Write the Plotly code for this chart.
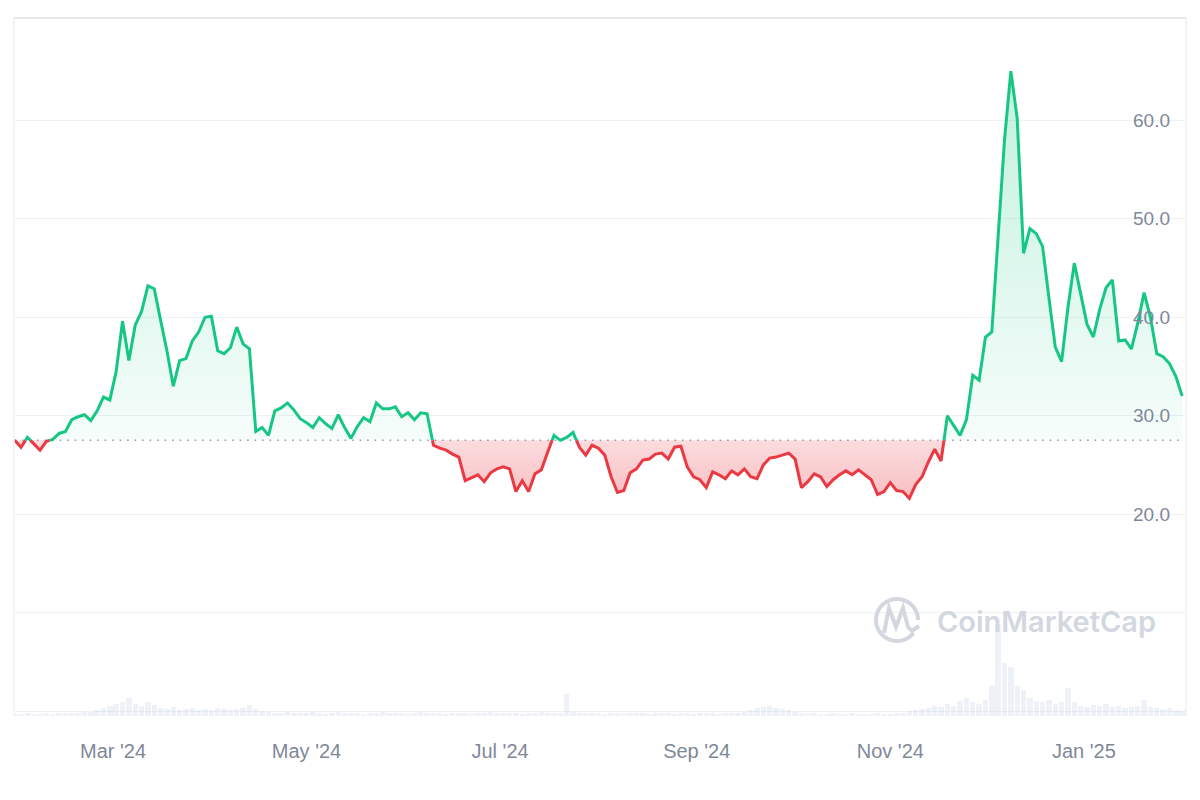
import numpy as np
import pandas as pd
import plotly.graph_objects as go

# ---------------- data ----------------
start_date = "2024-01-30"
step = "2D"

prices = [
    27.5, 26.8, 27.8, 27.2, 26.5, 27.4, 27.6, 28.2, 28.4, 29.6,
    29.9, 30.1, 29.5, 30.5, 31.9, 31.6, 34.5, 39.6, 35.6, 39.2,
    40.6, 43.2, 42.9, 39.7, 36.6, 33.0, 35.6, 35.8, 37.6, 38.5,
    40.0, 40.1, 36.6, 36.3, 36.9, 39.0, 37.3, 36.8, 28.4, 28.8,
    28.0, 30.5, 30.8, 31.3, 30.6, 29.7, 29.3, 28.8, 29.8, 29.2,
    28.7, 30.1, 28.8, 27.7, 28.9, 29.8, 29.4, 31.3, 30.7, 30.7,
    30.9, 29.9, 30.3, 29.6, 30.3, 30.2, 27.0, 26.7, 26.5, 26.1,
    25.8, 23.4, 23.7, 24.0, 23.3, 24.2, 24.6, 24.8, 24.6, 22.3,
    23.4, 22.3, 24.1, 24.5, 26.3, 28.0, 27.5, 27.8, 28.3, 26.8,
    26.0, 27.0, 26.7, 26.0, 23.8, 22.2, 22.4, 24.2, 24.6, 25.5,
    25.6, 26.1, 26.2, 25.6, 26.8, 26.9, 24.8, 23.8, 23.5, 22.7,
    24.3, 24.0, 23.6, 24.4, 24.0, 24.6, 23.8, 23.6, 25.0, 25.7,
    25.8, 26.0, 26.2, 25.6, 22.7, 23.3, 24.1, 23.8, 22.8, 23.5,
    24.0, 24.4, 24.0, 24.5, 24.0, 23.5, 22.0, 22.3, 23.2, 22.4,
    22.3, 21.6, 23.0, 23.8, 25.3, 26.6, 25.4, 30.0, 29.0, 28.0,
    29.6, 34.1, 33.6, 38.0, 38.5, 48.5, 58.0, 65.0, 60.2, 46.5,
    49.0, 48.5, 47.2, 42.0, 37.0, 35.5, 41.0, 45.5, 42.5, 39.3,
    38.0, 40.8, 43.0, 43.8, 37.6, 37.7, 36.8, 39.4, 42.5, 40.0,
    36.3, 36.0, 35.3, 34.0, 32.0,
]

volumes = [
    2, 2, 3, 2, 2, 3, 2, 3, 3, 3, 3, 4,
    4, 6, 8, 10, 12,
    14, 18, 12, 10, 14, 11,
    8, 7, 9, 6, 7, 8, 6, 7, 6, 8, 7, 6, 7, 8,
    11, 7, 5,
    4, 3, 3, 4, 3, 3, 3, 4, 3, 2, 3, 4, 3, 3, 3, 2, 3, 3, 4, 3, 3, 3, 2, 3,
    4, 3, 3, 3, 2, 3, 3, 3, 2, 3, 3, 4, 3, 3, 3, 3, 2, 3, 3, 4, 3, 3, 3,
    22,
    4, 3, 3, 3, 3, 2, 3, 3, 2, 3, 3, 3, 2, 3, 3, 3, 2, 3, 3, 2, 3, 3, 3, 2, 3, 3,
    3, 4, 6, 8, 9, 10, 8, 7, 6, 4,
    3, 2, 3, 2, 2, 3, 2, 2, 3, 2, 2, 2, 3, 2, 2, 3, 3,
    5, 6, 7, 8, 10, 9, 12, 10, 15, 18, 14, 12, 16,
    30, 91, 53, 49, 30, 26,
    18, 15, 14, 16, 12, 14, 28,
    14,
    10, 9, 11, 10, 12, 9, 10, 8, 9, 10,
    16,
    9, 8, 7, 8, 6, 5,
]

y_tick_values = [0, 10, 20, 30, 40, 50, 60]
y_tick_labels = ["", "", "20.0", "30.0", "40.0", "50.0", "60.0"]
x_tick_dates = ["2024-03-01", "2024-05-01", "2024-07-01",
                "2024-09-01", "2024-11-01", "2025-01-01"]
x_tick_labels = ["Mar '24", "May '24", "Jul '24", "Sep '24", "Nov '24", "Jan '25"]

GREEN = "#16c784"
RED = "#ea3943"

# ---------------- preparation ----------------
n = min(len(prices), len(volumes))
dates = pd.date_range(start_date, periods=n, freq=step)
p = np.array(prices[:n], dtype=float)
vol = np.array(volumes[:n], dtype=float)
base = p[0]

# add the points where the series crosses the baseline, so colours split cleanly
xs, ys = [], []
for i in range(n):
    xs.append(dates[i])
    ys.append(p[i])
    if i < n - 1:
        a, b = p[i] - base, p[i + 1] - base
        if a * b < 0:
            t = a / (a - b)
            xs.append(dates[i] + (dates[i + 1] - dates[i]) * t)
            ys.append(base)
ys = np.array(ys)
up = np.maximum(ys, base)
dn = np.minimum(ys, base)
green_line = [y if y >= base else None for y in ys]
red_line = [y if y <= base else None for y in ys]
base_line = [base] * len(xs)

fig = go.Figure()

# volume bars at the bottom
fig.add_trace(go.Bar(
    x=dates, y=vol, yaxis="y2",
    marker=dict(color="rgba(200,210,228,0.30)", line=dict(width=0)),
    width=2 * 86400000 * 0.85, hoverinfo="skip", showlegend=False,
))

# green area (above baseline)
fig.add_trace(go.Scatter(x=xs, y=base_line, mode="lines", line=dict(width=0),
                         hoverinfo="skip", showlegend=False))
fig.add_trace(go.Scatter(
    x=xs, y=up, mode="lines", line=dict(width=0), fill="tonexty",
    fillgradient=dict(type="vertical",
                      colorscale=[[0, "rgba(22,199,132,0.04)"],
                                  [1, "rgba(22,199,132,0.26)"]],
                      start=base, stop=float(p.max())),
    hoverinfo="skip", showlegend=False))

# red area (below baseline)
fig.add_trace(go.Scatter(x=xs, y=base_line, mode="lines", line=dict(width=0),
                         hoverinfo="skip", showlegend=False))
fig.add_trace(go.Scatter(
    x=xs, y=dn, mode="lines", line=dict(width=0), fill="tonexty",
    fillgradient=dict(type="vertical",
                      colorscale=[[0, "rgba(234,57,67,0.32)"],
                                  [1, "rgba(234,57,67,0.18)"]],
                      start=float(p.min()), stop=base),
    hoverinfo="skip", showlegend=False))

# dotted baseline
fig.add_trace(go.Scatter(
    x=[dates[0], dates[-1]], y=[base, base], mode="lines",
    line=dict(color="#8f98a8", width=1.5, dash="1.5px,6px"),
    hoverinfo="skip", showlegend=False))

# price lines
fig.add_trace(go.Scatter(x=xs, y=green_line, mode="lines", connectgaps=False,
                         line=dict(color=GREEN, width=3), showlegend=False))
fig.add_trace(go.Scatter(x=xs, y=red_line, mode="lines", connectgaps=False,
                         line=dict(color=RED, width=3), showlegend=False))

# ---------------- layout ----------------
W, H = 1200, 800
L, R, T, B = 14, 14, 18, 84


def P(x, y):
    """pixel -> paper coordinates (for decoration only)"""
    return (x - L) / (W - L - R), (H - B - y) / (H - T - B)


label_font = dict(family="Liberation Sans, Arial, sans-serif", color="#7f8899")

fig.update_layout(
    width=W, height=H,
    margin=dict(l=L, r=R, t=T, b=B),
    paper_bgcolor="white", plot_bgcolor="white",
    showlegend=False, bargap=0,
    xaxis=dict(
        type="date",
        range=["2024-01-29 19:00", "2025-02-02 05:00"],
        tickvals=x_tick_dates, ticktext=x_tick_labels,
        showgrid=False, zeroline=False, showline=False, ticks="",
        ticklabelstandoff=21,
        tickfont=dict(size=20, **label_font),
    ),
    yaxis=dict(
        range=[-0.5, 70.4], side="right",
        tickvals=y_tick_values, ticktext=y_tick_labels,
        ticklabelposition="inside",
        showgrid=True, gridcolor="#f0f1f3", gridwidth=1,
        zeroline=False, showline=False, ticks="",
        ticklabelstandoff=13,
        tickfont=dict(size=19, **label_font),
    ),
    yaxis2=dict(overlaying="y", range=[0, float(vol.max()) * 7.67],
                visible=False),
)

# chart frame (top, left, right)
fig.add_shape(type="line", xref="paper", yref="paper", x0=0, x1=1, y0=1, y1=1,
              line=dict(color="#e8e8e8", width=2))
fig.add_shape(type="line", xref="paper", yref="paper", x0=0, x1=0, y0=0, y1=1,
              line=dict(color="#f0f0f0", width=1.5))
fig.add_shape(type="line", xref="paper", yref="paper", x0=1, x1=1, y0=0, y1=1,
              line=dict(color="#f0f0f0", width=1.5))

# watermark: logo + text
wm = "#d3d7df"
cx, cy, r = 897, 620, 21
arc = []
for ang in np.linspace(np.radians(38), np.radians(360), 50):
    px, py = P(cx + r * np.cos(ang), cy + r * np.sin(ang))
    arc.append(f"{px:.5f},{py:.5f}")
fig.add_shape(type="path", xref="paper", yref="paper",
              path="M " + " L ".join(arc), line=dict(color=wm, width=4))
wave_pts = [(884, 633), (889, 608), (896, 627), (903, 608), (908, 627), (912, 631), (919, 626)]
wave = " L ".join(f"{P(a, b)[0]:.5f},{P(a, b)[1]:.5f}" for a, b in wave_pts)
fig.add_shape(type="path", xref="paper", yref="paper", path="M " + wave,
              line=dict(color=wm, width=4))
tx, ty = P(1046, 621)
fig.add_annotation(xref="paper", yref="paper", x=tx, y=ty, text="CoinMarketCap",
                   showarrow=False, xanchor="center", yanchor="middle",
                   font=dict(family="Inter, Noto Sans, sans-serif", size=29,
                             color=wm, weight=600))

fig.write_html("out.html")
